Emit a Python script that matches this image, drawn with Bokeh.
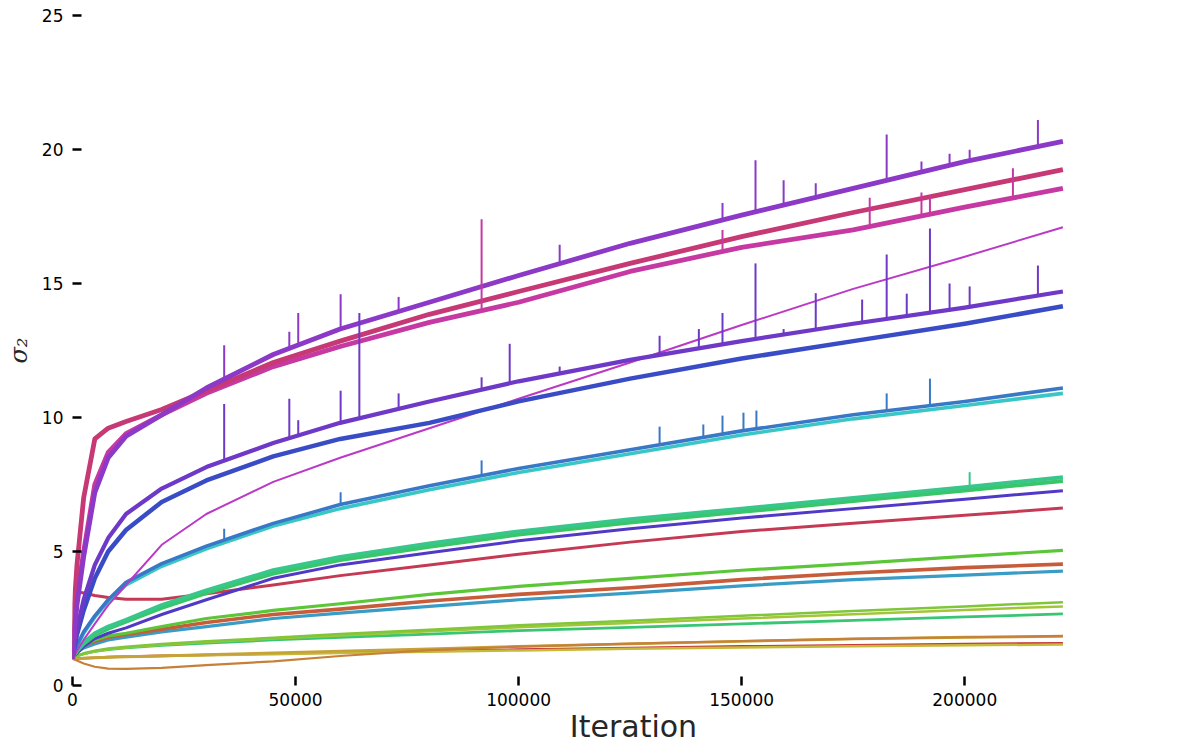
import numpy as np
from bokeh.plotting import figure
from bokeh.models import Range1d, FixedTicker, BasicTickFormatter, ColumnDataSource
from bokeh.embed import file_html
from bokeh.resources import INLINE

# ---------------- data ----------------
iterations = [0, 400, 1000, 2500, 5000, 8000, 12000, 20000, 30000, 45000, 60000,
              80000, 100000, 125000, 150000, 175000, 200000, 222000]

violet        = [1, 2.0, 3.0, 4.8, 7.2, 8.5, 9.3, 10.1, 11.1, 12.35, 13.3, 14.3, 15.3, 16.5, 17.55, 18.55, 19.55, 20.3]
crimson_pink  = [1, 3.0, 4.5, 7.0, 9.2, 9.6, 9.85, 10.3, 11.0, 12.05, 12.85, 13.85, 14.7, 15.75, 16.75, 17.65, 18.5, 19.25]
pink_magenta  = [1, 2.0, 3.3, 5.0, 7.5, 8.7, 9.4, 10.1, 10.9, 11.9, 12.65, 13.55, 14.3, 15.45, 16.35, 17.0, 17.85, 18.55]
magenta_thin  = [1, 1.1, 1.3, 1.7, 2.3, 3.0, 3.75, 5.25, 6.4, 7.6, 8.5, 9.6, 10.7, 12.05, 13.45, 14.8, 16.0, 17.1]
purple_blue   = [1, 1.5, 2.1, 3.2, 4.5, 5.5, 6.4, 7.35, 8.15, 9.05, 9.8, 10.6, 11.35, 12.15, 12.85, 13.5, 14.1, 14.7]
blue          = [1, 1.4, 1.9, 2.8, 4.0, 5.0, 5.8, 6.85, 7.65, 8.55, 9.2, 9.8, 10.6, 11.45, 12.2, 12.85, 13.5, 14.15]
steel_blue    = [1, 1.25, 1.5, 2.0, 2.6, 3.2, 3.85, 4.55, 5.2, 6.05, 6.75, 7.45, 8.1, 8.8, 9.5, 10.1, 10.6, 11.1]
cyan          = [1, 1.25, 1.45, 1.95, 2.55, 3.15, 3.75, 4.45, 5.1, 5.95, 6.6, 7.3, 7.95, 8.65, 9.35, 9.95, 10.45, 10.9]
green_teal    = [1, 1.15, 1.3, 1.6, 1.95, 2.2, 2.45, 3.0, 3.55, 4.3, 4.8, 5.3, 5.75, 6.2, 6.6, 7.0, 7.4, 7.77]
sea_green     = [1, 1.15, 1.28, 1.55, 1.88, 2.12, 2.38, 2.9, 3.45, 4.18, 4.68, 5.18, 5.63, 6.08, 6.48, 6.88, 7.28, 7.63]
indigo        = [1, 1.1, 1.2, 1.45, 1.75, 1.95, 2.15, 2.65, 3.2, 4.0, 4.5, 4.95, 5.4, 5.85, 6.25, 6.6, 6.95, 7.27]
crimson       = [1, 3.0, 3.5, 3.45, 3.36, 3.28, 3.22, 3.22, 3.42, 3.75, 4.1, 4.5, 4.9, 5.35, 5.75, 6.05, 6.35, 6.62]
green         = [1, 1.15, 1.3, 1.5, 1.7, 1.85, 1.95, 2.2, 2.5, 2.8, 3.05, 3.4, 3.7, 4.0, 4.3, 4.55, 4.82, 5.04]
orange_red    = [1, 1.15, 1.3, 1.5, 1.65, 1.8, 1.9, 2.1, 2.35, 2.65, 2.85, 3.15, 3.4, 3.65, 3.95, 4.2, 4.4, 4.53]
sky_blue      = [1, 1.1, 1.25, 1.4, 1.55, 1.7, 1.8, 2.0, 2.2, 2.5, 2.7, 2.95, 3.2, 3.45, 3.72, 3.95, 4.12, 4.27]
chartreuse    = [1, 1.05, 1.1, 1.2, 1.3, 1.38, 1.45, 1.55, 1.65, 1.78, 1.92, 2.08, 2.25, 2.42, 2.6, 2.78, 2.95, 3.11]
lime          = [1, 1.05, 1.1, 1.18, 1.27, 1.35, 1.42, 1.52, 1.62, 1.75, 1.87, 2.02, 2.17, 2.33, 2.5, 2.66, 2.82, 2.95]
jade          = [1, 1.05, 1.1, 1.18, 1.27, 1.34, 1.4, 1.5, 1.58, 1.7, 1.8, 1.92, 2.05, 2.17, 2.3, 2.43, 2.56, 2.67]
golden        = [1, 1.0, 1.0, 1.02, 1.03, 1.05, 1.07, 1.1, 1.15, 1.22, 1.28, 1.37, 1.46, 1.55, 1.65, 1.74, 1.8, 1.83]
orange_brown  = [1, 0.97, 0.93, 0.82, 0.7, 0.63, 0.62, 0.66, 0.76, 0.9, 1.1, 1.32, 1.45, 1.56, 1.66, 1.74, 1.8, 1.85]
yellow        = [1, 1.0, 1.01, 1.02, 1.04, 1.06, 1.08, 1.1, 1.13, 1.17, 1.21, 1.26, 1.31, 1.37, 1.42, 1.46, 1.5, 1.53]
red           = [1, 1.0, 1.01, 1.02, 1.04, 1.06, 1.08, 1.11, 1.14, 1.19, 1.23, 1.29, 1.34, 1.4, 1.46, 1.5, 1.55, 1.58]

# spikes: (series name, iteration, peak value)
spike_series = (["violet"] * 15 + ["pink_magenta"] * 6 + ["purple_blue"] * 22 +
                ["steel_blue"] * 10 + ["green_teal"] * 1)
spike_iter = [34000, 48600, 50600, 60100, 73100, 109200, 145700, 153100, 159400, 166600, 182500, 190300, 196600, 201100, 216400,
              91700, 145700, 178700, 190300, 192200, 210800,
              34000, 48600, 50600, 60100, 64300, 73100, 91700, 98000, 109200, 131600, 140400, 145700, 153100, 159400,
              166600, 177000, 182500, 187000, 192200, 196600, 201100, 216400,
              34000, 60100, 91700, 131600, 141400, 145700, 150400, 153300, 182500, 192200,
              201100]
spike_peak = [12.7, 13.2, 13.9, 14.6, 14.5, 16.45, 18.0, 19.6, 18.85, 18.74, 20.56, 19.55, 19.84, 19.99, 21.1,
              17.4, 17.0, 18.2, 18.4, 18.3, 19.3,
              10.5, 10.7, 9.9, 11.0, 13.9, 10.9, 11.5, 12.75, 11.9, 13.05, 13.3, 13.9, 15.75, 13.3,
              14.64, 14.4, 16.08, 14.62, 17.05, 15.0, 14.89, 15.67,
              5.85, 7.21, 8.4, 9.66, 9.74, 10.07, 10.18, 10.26, 10.9, 11.45,
              7.96]

# ---------------- styles ----------------
series = [
    ("red", red, "#c63939", 2.5),
    ("yellow", yellow, "#c6ba39", 2.5),
    ("golden", golden, "#c6a339", 2.8),
    ("orange_brown", orange_brown, "#c68039", 2.2),
    ("jade", jade, "#39c674", 2.8),
    ("lime", lime, "#a3c639", 2.5),
    ("chartreuse", chartreuse, "#7fc639", 2.5),
    ("sky_blue", sky_blue, "#399cc6", 3.2),
    ("orange_red", orange_red, "#c65c39", 3.6),
    ("green", green, "#5cc639", 3.2),
    ("crimson", crimson, "#c63955", 3.0),
    ("indigo", indigo, "#5039c6", 3.0),
    ("sea_green", sea_green, "#39c668", 4.0),
    ("green_teal", green_teal, "#39c68a", 4.0),
    ("cyan", cyan, "#39c6c6", 3.6),
    ("steel_blue", steel_blue, "#3978c6", 3.6),
    ("magenta_thin", magenta_thin, "#ba39c6", 2.0),
    ("blue", blue, "#394cc6", 4.5),
    ("purple_blue", purple_blue, "#6d39c6", 4.2),
    ("pink_magenta", pink_magenta, "#c639a3", 4.8),
    ("crimson_pink", crimson_pink, "#c63974", 4.8),
    ("violet", violet, "#8b39c6", 4.8),
]
lookup = {name: (vals, col) for name, vals, col, _ in series}

p = figure(width=1194, height=751,
           x_range=Range1d(0, 251500), y_range=Range1d(0, 25),
           output_backend="svg", toolbar_location=None,
           min_border_left=72, min_border_right=0, min_border_top=15, min_border_bottom=66)
p.outline_line_color = None
p.xgrid.visible = False
p.ygrid.visible = False
p.background_fill_color = "white"
p.border_fill_color = "white"

for name, vals, col, lw in series:
    p.line(iterations, vals, line_color=col, line_width=lw, line_join="round")

base = [float(np.interp(x, iterations, lookup[s][0])) for s, x in zip(spike_series, spike_iter)]
spike_src = ColumnDataSource(dict(x=spike_iter, y0=base, y1=spike_peak,
                                  c=[lookup[s][1] for s in spike_series]))
p.segment(x0="x", y0="y0", x1="x", y1="y1", line_color="c", line_width=2, source=spike_src)

for ax in (p.xaxis[0], p.yaxis[0]):
    ax.axis_line_color = None
    ax.major_tick_in = 9
    ax.major_tick_out = 0
    ax.major_tick_line_width = 2.5
    ax.major_tick_line_color = "black"
    ax.minor_tick_line_color = None
    ax.major_label_text_font = "DejaVu Sans"
    ax.major_label_text_font_size = "17px"
    ax.major_label_text_color = "black"

p.xaxis.ticker = FixedTicker(ticks=[0, 50000, 100000, 150000, 200000])
p.xaxis.formatter = BasicTickFormatter(use_scientific=False)
p.xaxis.major_label_standoff = 7
p.xaxis.axis_label = "Iteration"
p.xaxis.axis_label_text_font = "DejaVu Sans"
p.xaxis.axis_label_text_font_style = "normal"
p.xaxis.axis_label_text_font_size = "30px"
p.xaxis.axis_label_text_color = "#262626"
p.xaxis.axis_label_standoff = 0

p.yaxis.ticker = FixedTicker(ticks=[0, 5, 10, 15, 20, 25])
p.yaxis.major_label_standoff = 9
p.yaxis.axis_label = "σ₂"
p.yaxis.axis_label_text_font = "DejaVu Serif"
p.yaxis.axis_label_text_font_style = "italic"
p.yaxis.axis_label_text_font_size = "24px"
p.yaxis.axis_label_text_color = "#262626"
p.yaxis.axis_label_standoff = 6

open("out.html", "w").write(file_html(p, INLINE))
